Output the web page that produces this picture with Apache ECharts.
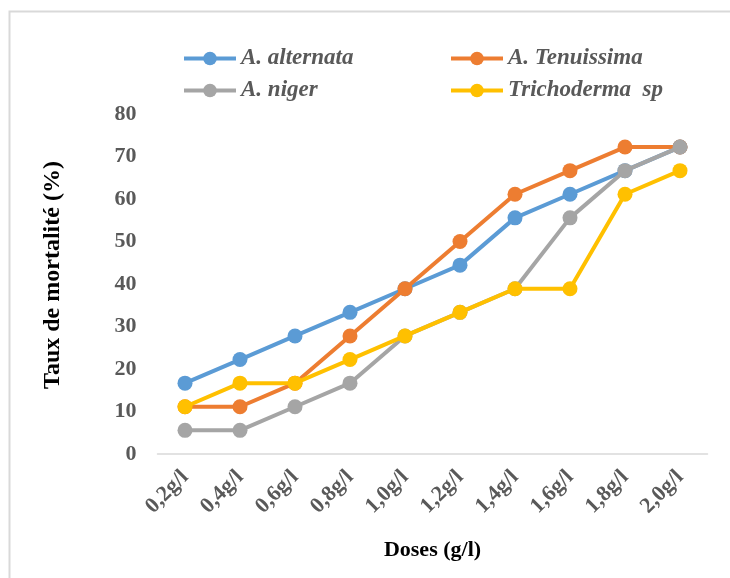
<!DOCTYPE html>
<html>
<head>
<meta charset="utf-8">
<script src="https://cdn.jsdelivr.net/npm/echarts@6/dist/echarts.min.js"></script>
<style>
  html, body { margin: 0; padding: 0; background: #fff; }
  #chart { width: 730px; height: 578px; }
</style>
</head>
<body>
<div id="chart"></div>
<script>
// Doses tested (g/l)
const doses = ['0,2g/l', '0,4g/l', '0,6g/l', '0,8g/l', '1,0g/l', '1,2g/l', '1,4g/l', '1,6g/l', '1,8g/l', '2,0g/l'];

// Mortality rate (%) per treatment
const alternata   = [16.67, 22.22, 27.78, 33.33, 38.89, 44.44, 55.56, 61.11, 66.67, 72.22];
const tenuissima  = [11.11, 11.11, 16.67, 27.78, 38.89, 50.00, 61.11, 66.67, 72.22, 72.22];
const niger       = [5.56, 5.56, 11.11, 16.67, 27.78, 33.33, 38.89, 55.56, 66.67, 72.22];
const trichoderma = [11.11, 16.67, 16.67, 22.22, 27.78, 33.33, 38.89, 38.89, 61.11, 66.67];

const seriesNames = ['A. alternata', 'A. Tenuissima', 'A. niger', 'Trichoderma  sp'];
const seriesColors = ['#5B9BD5', '#ED7D31', '#A5A5A5', '#FFC000'];
const seriesData = [alternata, tenuissima, niger, trichoderma];

const serif = '"Liberation Serif", "Times New Roman", serif';

const chart = echarts.init(document.getElementById('chart'), null, { renderer: 'canvas' });

const legendText = {
  fontFamily: serif,
  fontSize: 23,
  fontWeight: 'bold',
  fontStyle: 'italic',
  color: '#595959'
};

const legendBase = {
  orient: 'vertical',
  top: 42,
  itemWidth: 52, itemHeight: 17, itemGap: 9,
  lineStyle: { width: 4 },
  textStyle: legendText
};

chart.setOption({
  animation: false,
  backgroundColor: '#fff',
  graphic: [{
    type: 'rect',
    left: 7, top: 9,
    shape: { width: 800, height: 700 },
    style: { fill: 'none', stroke: '#d9d9d9', lineWidth: 2 },
    silent: true
  }],
  legend: [
    Object.assign({}, legendBase, { data: [seriesNames[0], seriesNames[2]], left: 177 }),
    Object.assign({}, legendBase, { data: [seriesNames[1], seriesNames[3]], left: 444 })
  ],
  grid: { left: 157.5, right: 22.5, top: 114, bottom: 124, containLabel: false },
  xAxis: {
    type: 'category',
    data: doses,
    boundaryGap: true,
    name: 'Doses (g/l)',
    nameLocation: 'middle',
    nameGap: 85,
    nameTextStyle: { fontFamily: serif, fontSize: 22, fontWeight: 'bold', color: '#000' },
    axisLine: { lineStyle: { color: '#d9d9d9', width: 1.5 } },
    axisTick: { show: false },
    axisLabel: {
      rotate: 45,
      margin: 20,
      fontFamily: serif, fontSize: 22, fontWeight: 'bold', color: '#595959'
    },
    splitLine: { show: false }
  },
  yAxis: {
    type: 'value',
    min: 0, max: 80, interval: 10,
    name: 'Taux de mortalité (%)',
    nameLocation: 'middle',
    nameGap: 93,
    nameRotate: 90,
    nameTextStyle: {
      fontFamily: serif, fontSize: 24, fontWeight: 'bold', color: '#000',
      padding: [0, 0, 0, 18]
    },
    axisLine: { show: false },
    axisTick: { show: false },
    axisLabel: { margin: 21, fontFamily: serif, fontSize: 22, fontWeight: 'bold', color: '#595959' },
    splitLine: { show: false }
  },
  series: seriesData.map((d, i) => ({
    name: seriesNames[i],
    type: 'line',
    data: d,
    symbol: 'circle',
    symbolSize: 15,
    lineStyle: { width: 4, color: seriesColors[i] },
    itemStyle: { color: seriesColors[i] },
    z: 2 + i
  }))
});
</script>
</body>
</html>
